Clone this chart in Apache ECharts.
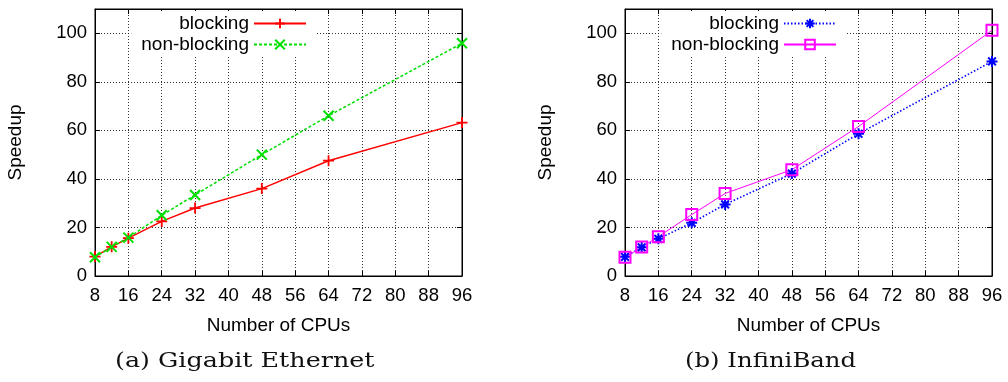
<!DOCTYPE html>
<html><head><meta charset="utf-8">
<script src="https://cdn.jsdelivr.net/npm/echarts@6/dist/echarts.min.js"></script>
<style>html,body{margin:0;padding:0;background:#fff}#c{width:1008px;height:382px}</style>
</head><body><div id="c"></div>
<script>
const cpus = [8, 12, 16, 24, 32, 48, 64, 96];
const ethBlocking = [8, 12, 15.6, 22.5, 28, 36, 47.5, 63.2];
const ethNonBlocking = [7.7, 12, 15.8, 25, 33.4, 50, 66, 95.9];
const ibBlocking = [7.9, 11.8, 15.3, 21.9, 29.5, 42.2, 58.6, 88.4];
const ibNonBlocking = [7.7, 11.9, 16.2, 25.3, 34, 43.8, 61.6, 101.2];
const seriesNames = ['blocking', 'non-blocking'];
const captions = ['(a) Gigabit Ethernet', '(b) InfiniBand'];
const xName = 'Number of CPUs';
const yName = 'Speedup';

const pts = v => cpus.map((c, i) => [c, v[i]]);
const FONT = 'Liberation Sans';
const PLUS = 'path://M0,5L10,5M5,0L5,10';
const CROSS = 'path://M0,0L10,10M10,0L0,10';
const STAR = 'path://M0,5L10,5M5,0L5,10M1.5,1.5L8.5,8.5M8.5,1.5L1.5,8.5';
const SQUARE = 'path://M0,0L10,0L10,10L0,10Z';

const grids = [
  {left: 95, right: 546, top: 9, bottom: 106, show: true, borderColor: '#000', borderWidth: 1},
  {left: 625, right: 16, top: 9, bottom: 106, show: true, borderColor: '#000', borderWidth: 1}
];
function xAx(g, pos, main) {
  return {type: 'value', gridIndex: g, position: pos, min: 8, max: 96, interval: 8,
    name: main ? xName : '', nameLocation: 'middle', nameGap: 40,
    nameTextStyle: {fontFamily: FONT, fontSize: 19, color: '#000'},
    axisLine: {show: true, onZero: false, lineStyle: {color: '#000', width: 1}},
    axisTick: {show: true, inside: true, length: 5, lineStyle: {color: '#000'}},
    axisLabel: {show: main, fontFamily: FONT, fontSize: 18.5, color: '#000', margin: 10},
    splitLine: {show: main, lineStyle: {color: '#333', type: [1, 2], width: 1}}};
}
function yAx(g, pos, main) {
  return {type: 'value', gridIndex: g, position: pos, min: 0, max: 110, interval: 20,
    name: main ? yName : '', nameLocation: 'middle', nameGap: 70, nameRotate: 90,
    nameTextStyle: {fontFamily: FONT, fontSize: 19, color: '#000'},
    axisLine: {show: true, onZero: false, lineStyle: {color: '#000', width: 1}},
    axisTick: {show: true, inside: true, length: 5, lineStyle: {color: '#000'}},
    axisLabel: {show: main, showMaxLabel: false, fontFamily: FONT, fontSize: 18.5, color: '#000', margin: 8,
      formatter: v => (v > 100 ? '' : String(v))},
    splitLine: {show: main, lineStyle: {color: '#333', type: [1, 2], width: 1}}};
}
function ser(name, data, xi, yi, color, lineType, lw, symbol, size, bw) {
  return {name: name, type: 'line', xAxisIndex: xi, yAxisIndex: yi, data: pts(data),
    symbol: symbol, symbolSize: size, showSymbol: true, z: 5,
    lineStyle: {color: color, type: lineType, width: lw},
    itemStyle: {color: symbol === SQUARE ? 'rgba(0,0,0,0)' : color, borderColor: color, borderWidth: bw},
    emphasis: {disabled: true}, animation: false};
}
const legendBase = {orient: 'vertical', align: 'right', itemWidth: 52, itemHeight: 12, itemGap: 2,
  backgroundColor: '#fff', padding: [3, 10, 3, 10], selectedMode: false,
  textStyle: {fontFamily: FONT, fontSize: 19, color: '#000'}};

const option = {
  animation: false,
  grid: grids,
  xAxis: [xAx(0, 'bottom', true), xAx(0, 'top', false), xAx(1, 'bottom', true), xAx(1, 'top', false)],
  yAxis: [yAx(0, 'left', true), yAx(0, 'right', false), yAx(1, 'left', true), yAx(1, 'right', false)],
  legend: [
    Object.assign({}, legendBase, {right: 691, top: 11, data: ['eth-' + seriesNames[0], 'eth-' + seriesNames[1]],
      formatter: n => n.replace('eth-', '')}),
    Object.assign({}, legendBase, {right: 161, top: 11, data: ['ib-' + seriesNames[0], 'ib-' + seriesNames[1]],
      formatter: n => n.replace('ib-', '')})
  ],
  series: [
    ser('eth-' + seriesNames[0], ethBlocking, 0, 0, '#ff0000', 'solid', 1.5, PLUS, 11, 1.8),
    ser('eth-' + seriesNames[1], ethNonBlocking, 0, 0, '#00e000', [3, 2], 1.5, CROSS, 10, 2),
    ser('ib-' + seriesNames[0], ibBlocking, 2, 2, '#0000ff', [1.5, 2], 1.6, STAR, 11, 2),
    ser('ib-' + seriesNames[1], ibNonBlocking, 2, 2, '#ff00ff', 'solid', 1, SQUARE, 11, 2)
  ],
  graphic: [
    {type: 'text', x: 115, y: 362, scaleX: 1.21, style: {text: captions[0], font: '21px "DejaVu Serif"', fill: '#111', textVerticalAlign: 'middle'}},
    {type: 'text', x: 685, y: 362, scaleX: 1.16, style: {text: captions[1], font: '21px "DejaVu Serif"', fill: '#111', textVerticalAlign: 'middle'}}
  ]
};
const chart = echarts.init(document.getElementById('c'), null, {renderer: 'canvas'});
chart.setOption(option);
</script></body></html>
